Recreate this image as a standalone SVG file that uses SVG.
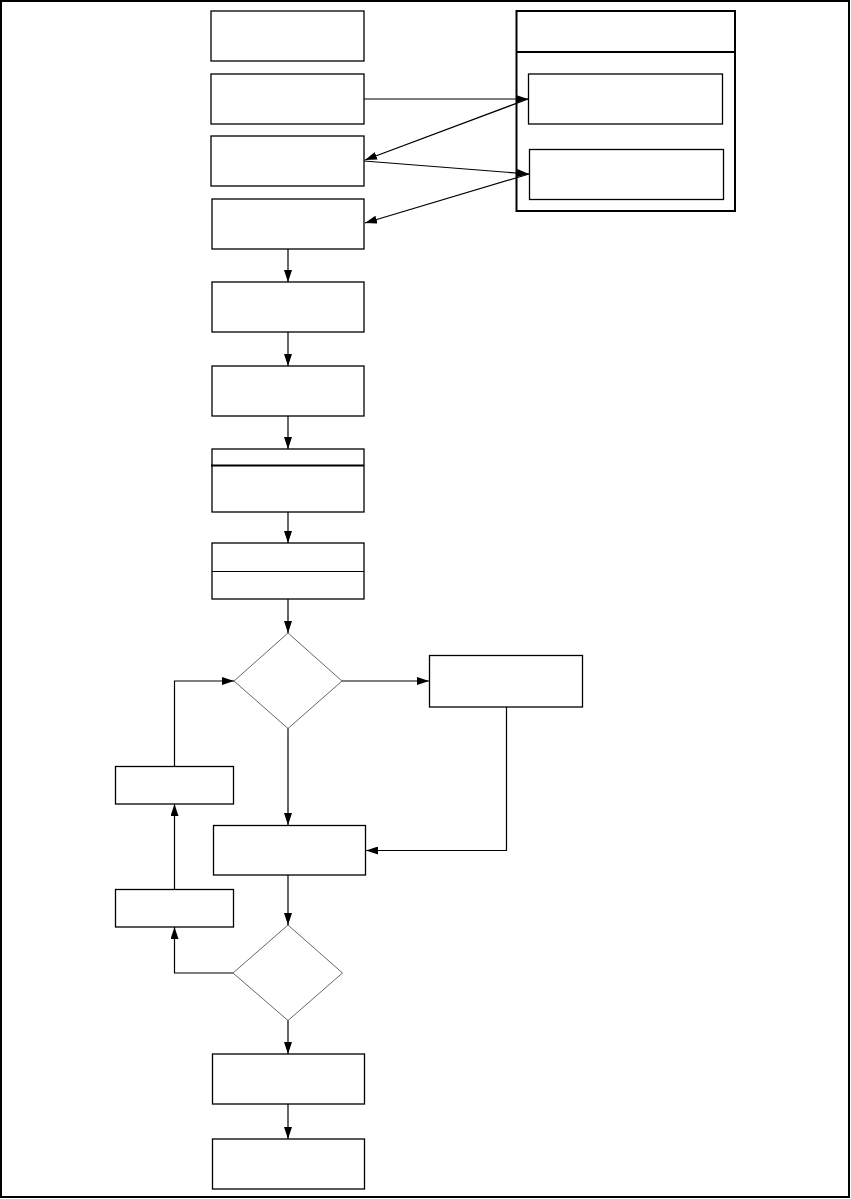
<svg xmlns="http://www.w3.org/2000/svg" width="851" height="1199" viewBox="0 0 851 1199">
<style>
.b{fill:#fff;stroke:#000;stroke-width:1.3}
.d{fill:#fff;stroke:#666;stroke-width:1}
.c{fill:none;stroke:#000;stroke-width:1.2}
.t{fill:none;stroke:#000;stroke-width:2}
</style>
<defs>
<marker id="a" viewBox="0 0 12 8" refX="12" refY="4" markerWidth="12" markerHeight="8" markerUnits="userSpaceOnUse" orient="auto">
<path d="M0,0 L12,4 L0,8 Z" fill="#000"/>
</marker>
</defs>
<rect x="1" y="1" width="848" height="1196" class="t" fill="#fff"/>
<g id="n1"><rect class="b" x="211" y="11" width="153" height="50"/></g>
<g id="n2"><rect class="b" x="211" y="74" width="153" height="50"/></g>
<g id="n3"><rect class="b" x="211" y="136" width="153" height="50"/></g>
<g id="n4"><rect class="b" x="212" y="199" width="152" height="50"/></g>
<g id="n5"><rect class="b" x="212" y="282" width="152" height="50"/></g>
<g id="n6"><rect class="b" x="212" y="366" width="152" height="50"/></g>
<g id="n7"><rect class="b" x="212" y="449" width="152" height="63"/><line x1="211" y1="465.5" x2="364" y2="465.5" stroke="#000" stroke-width="2"/></g>
<g id="n8"><rect class="b" x="212" y="543" width="152" height="56"/><line x1="212" y1="571.5" x2="364" y2="571.5" stroke="#000" stroke-width="1.2"/></g>
<g id="container"><rect x="516.5" y="11" width="218.5" height="200" fill="#fff" stroke="#000" stroke-width="2"/><line x1="516.5" y1="52" x2="735" y2="52" stroke="#000" stroke-width="2"/></g>
<g id="c1"><rect class="b" x="528.5" y="74" width="194" height="50"/></g>
<g id="c2"><rect class="b" x="529.5" y="149.5" width="194" height="50"/></g>
<g id="dec1"><polygon class="d" points="288,633 342,681 288,728.5 234,681"/></g>
<g id="nr"><rect class="b" x="429.5" y="655.5" width="153" height="51.5"/></g>
<g id="na"><rect class="b" x="115.5" y="766.5" width="118" height="37.5"/></g>
<g id="n9"><rect class="b" x="213.5" y="825.5" width="152" height="49.5"/></g>
<g id="nb"><rect class="b" x="115.5" y="889.5" width="118" height="37.5"/></g>
<g id="dec2"><polygon class="d" points="288,925 342.5,973 288,1020.5 233,973"/></g>
<g id="n10"><rect class="b" x="212.5" y="1054" width="152" height="50"/></g>
<g id="n11"><rect class="b" x="212.5" y="1139" width="152" height="50"/></g>
<g id="connectors" class="c">
<line x1="364" y1="99" x2="528" y2="99" marker-end="url(#a)"/>
<line x1="528" y1="99" x2="365" y2="160" marker-end="url(#a)"/>
<line x1="364" y1="161" x2="529" y2="174" marker-end="url(#a)"/>
<line x1="529" y1="174" x2="365" y2="223" marker-end="url(#a)"/>
<line x1="288" y1="249" x2="288" y2="282" marker-end="url(#a)"/>
<line x1="288" y1="332" x2="288" y2="366" marker-end="url(#a)"/>
<line x1="288" y1="416" x2="288" y2="449" marker-end="url(#a)"/>
<line x1="288" y1="512" x2="288" y2="543" marker-end="url(#a)"/>
<line x1="288" y1="599" x2="288" y2="633" marker-end="url(#a)"/>
<line x1="342" y1="681" x2="429" y2="681" marker-end="url(#a)"/>
<line x1="288" y1="728.5" x2="288" y2="825" marker-end="url(#a)"/>
<polyline points="506.5,707 506.5,850.5 366,850.5" marker-end="url(#a)"/>
<polyline points="174.5,766.5 174.5,681 234,681" marker-end="url(#a)"/>
<line x1="174.5" y1="889.5" x2="174.5" y2="804" marker-end="url(#a)"/>
<line x1="288" y1="875" x2="288" y2="925" marker-end="url(#a)"/>
<polyline points="233,973 174.5,973 174.5,927" marker-end="url(#a)"/>
<line x1="288" y1="1020.5" x2="288" y2="1054" marker-end="url(#a)"/>
<line x1="288" y1="1104" x2="288" y2="1139" marker-end="url(#a)"/>
</g>
</svg>
